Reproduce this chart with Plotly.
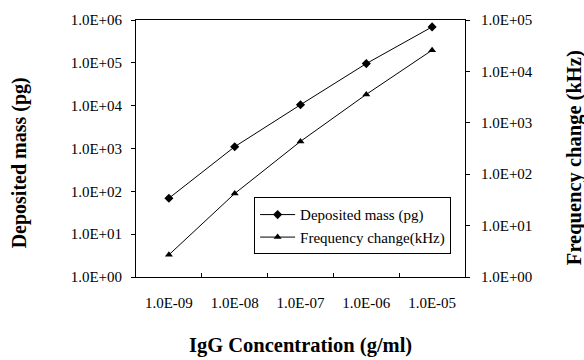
import plotly.graph_objects as go

categories = ["1.0E-09", "1.0E-08", "1.0E-07", "1.0E-06", "1.0E-05"]
deposited_mass = [69, 1100, 10500, 96000, 690000]
frequency_change = [2.7, 42, 435, 3570, 25900]
left_ticks = [1, 10, 100, 1e3, 1e4, 1e5, 1e6]
left_labels = ["1.0E+00", "1.0E+01", "1.0E+02", "1.0E+03", "1.0E+04", "1.0E+05", "1.0E+06"]
right_ticks = [1, 10, 100, 1e3, 1e4, 1e5]
right_labels = ["1.0E+00", "1.0E+01", "1.0E+02", "1.0E+03", "1.0E+04", "1.0E+05"]

FONT = "Liberation Serif, Times New Roman, serif"

fig = go.Figure()
fig.add_trace(go.Scatter(
    x=categories, y=deposited_mass, name="Deposited mass (pg)",
    mode="lines+markers",
    line=dict(color="black", width=1),
    marker=dict(symbol="diamond", size=7, color="black"),
))
fig.add_trace(go.Scatter(
    x=categories, y=frequency_change, name="Frequency change(kHz)",
    mode="lines+markers", yaxis="y2",
    line=dict(color="black", width=1),
    marker=dict(symbol="triangle-up", size=7, color="black"),
))

fig.update_layout(
    width=584, height=360,
    margin=dict(l=136, r=119, t=13, b=83),
    paper_bgcolor="white", plot_bgcolor="white",
    font=dict(family=FONT, size=15, color="black"),
    showlegend=True,
    legend=dict(
        x=0.359, y=0.31, xanchor="left", yanchor="top",
        bgcolor="white", bordercolor="black", borderwidth=1,
        font=dict(family=FONT, size=15, color="black"),
        itemwidth=35, tracegroupgap=0,
    ),
    xaxis=dict(
        type="category", range=[-0.5, 4.5],
        tickson="boundaries", ticks="inside", ticklen=4, tickcolor="black",
        showline=True, linecolor="black", linewidth=1, mirror=True,
        showgrid=False, zeroline=False,
        ticklabelstandoff=12,
    ),
    yaxis=dict(
        type="log", range=[0, 6],
        tickvals=left_ticks, ticktext=left_labels,
        ticks="outside", ticklen=4, tickcolor="black",
        showline=True, linecolor="black", linewidth=1, mirror=True,
        showgrid=False, zeroline=False,
        ticklabelstandoff=6,
    ),
    yaxis2=dict(
        type="log", range=[0, 5], overlaying="y", side="right",
        tickvals=right_ticks, ticktext=right_labels,
        ticks="outside", ticklen=4, tickcolor="black",
        showline=True, linecolor="black", linewidth=1,
        showgrid=False, zeroline=False,
        ticklabelstandoff=8,
    ),
    annotations=[
        dict(text="<b>IgG Concentration (g/ml)</b>", xref="paper", yref="paper",
             x=0.5015, y=-0.265, xanchor="center", yanchor="middle",
             showarrow=False, font=dict(family=FONT, size=20.5, color="black")),
        dict(text="<b>Deposited mass (pg)</b>", xref="paper", yref="paper",
             x=-0.355, y=0.443, xanchor="center", yanchor="middle", textangle=-90,
             showarrow=False, font=dict(family=FONT, size=20, color="black")),
        dict(text="<b>Frequency change (kHz)</b>", xref="paper", yref="paper",
             x=1.331, y=0.466, xanchor="center", yanchor="middle", textangle=-90,
             showarrow=False, font=dict(family=FONT, size=20.5, color="black")),
    ],
)

fig.write_html("out.html", config={"displayModeBar": False},
               post_script="document.body.style.margin='0';document.body.style.overflow='hidden';")
